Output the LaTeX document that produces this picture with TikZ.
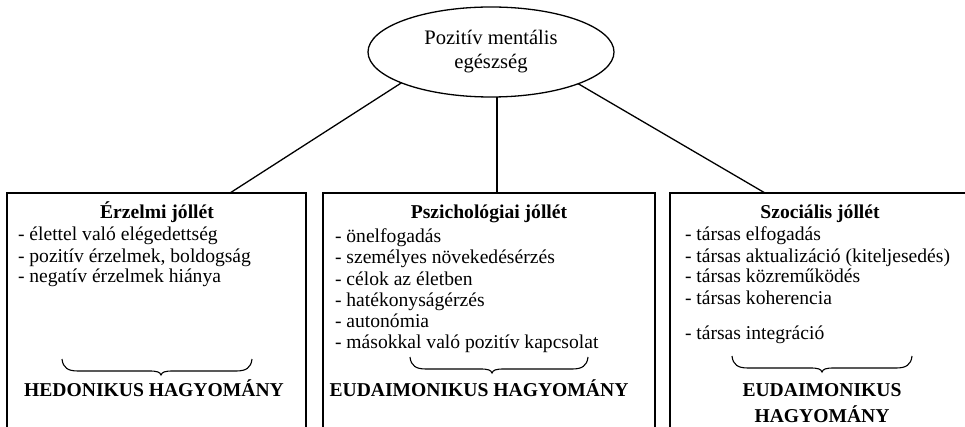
\documentclass[tikz,border=0pt]{standalone}
\usepackage{fontspec}
\setmainfont{Liberation Serif}
\usetikzlibrary{shapes.geometric}
% custom curly brace: left x, tip x, right x, top y (y grows downward)
\newcommand{\mybrace}[4]{%
  \draw[brc] (#1,#4) .. controls ({#1+1},{#4+9}) and ({#1+6},{#4+12}) .. ({#1+16},{#4+12})
    -- ({#2-12},{#4+12}) .. controls ({#2-4},{#4+12}) and ({#2-1},{#4+13}) .. (#2,{#4+16})
    .. controls ({#2+1},{#4+13}) and ({#2+4},{#4+12}) .. ({#2+12},{#4+12})
    -- ({#3-16},{#4+12}) .. controls ({#3-6},{#4+12}) and ({#3-1},{#4+9}) .. (#3,#4);}
\begin{document}
\begin{tikzpicture}[x=1pt,y=-1pt,
  every node/.style={inner sep=0pt, outer sep=0pt},
  txt/.style={font=\fontsize{19.6}{21}\selectfont, anchor=base west},
  ttl/.style={font=\fontsize{19.6}{21}\selectfont\bfseries, anchor=base},
  box/.style={draw, line width=1.3pt, anchor=north west, minimum height=260pt},
  lnk/.style={line width=1.3pt},
  brc/.style={line width=1.1pt}]
\useasboundingbox (0,0) rectangle (965,427);
\node[draw, ellipse, line width=1.3pt, minimum width=246pt, minimum height=90pt, align=center, font=\fontsize{20.6}{24}\selectfont] (ell) at (491,52) {Pozitív mentális\\egészség};
\node[box, minimum width=299pt] (b1) at (7,193) {};
\node[box, minimum width=332pt] (b2) at (323,193) {};
\node[box, minimum width=320pt] (b3) at (670,193) {};
\draw[lnk] (ell.199) -- ([xshift=73.5pt]b1.north);
\draw[lnk] ([xshift=6pt]ell.south) -- ([xshift=6pt]ell.south |- b2.north);
\draw[lnk] (ell.340) -- ([xshift=95pt]b3.north west);
% box 1
\node[ttl] (t1) at (157,219) {Érzelmi jóllét};
\node[txt] (a1) at (18,241) {- élettel való elégedettség};
\node[txt] (a2) at (18,262) {- pozitív érzelmek, boldogság};
\node[txt] (a3) at (18,283) {- negatív érzelmek hiánya};
\mybrace{62}{161}{252}{359}
\node[ttl] (h1) at (154,396) {HEDONIKUS HAGYOMÁNY};
% box 2
\node[ttl] (t2) at (489,219) {Pszichológiai jóllét};
\node[txt] (p1) at (335,243) {- önelfogadás};
\node[txt] (p2) at (335,264) {- személyes növekedésérzés};
\node[txt] (p3) at (335,285) {- célok az életben};
\node[txt] (p4) at (335,306) {- hatékonyságérzés};
\node[txt] (p5) at (335,327) {- autonómia};
\node[txt] (p6) at (335,348) {- másokkal való pozitív kapcsolat};
\mybrace{410}{492}{588}{357}
\node[ttl] (h2) at (479,396) {EUDAIMONIKUS HAGYOMÁNY};
% box 3
\node[ttl] (t3) at (820,219) {Szociális jóllét};
\node[txt] (s1) at (685,241) {- társas elfogadás};
\node[txt] (s2) at (685,262) {- társas aktualizáció (kiteljesedés)};
\node[txt] (s3) at (685,283) {- társas közreműködés};
\node[txt] (s4) at (685,304) {- társas koherencia};
\node[txt] (s5) at (685,339) {- társas integráció};
\mybrace{732}{822}{912}{356}
\node[ttl] (h3a) at (822,396) {EUDAIMONIKUS};
\node[ttl] (h3b) at (822,422) {HAGYOMÁNY};
\end{tikzpicture}
\end{document}
